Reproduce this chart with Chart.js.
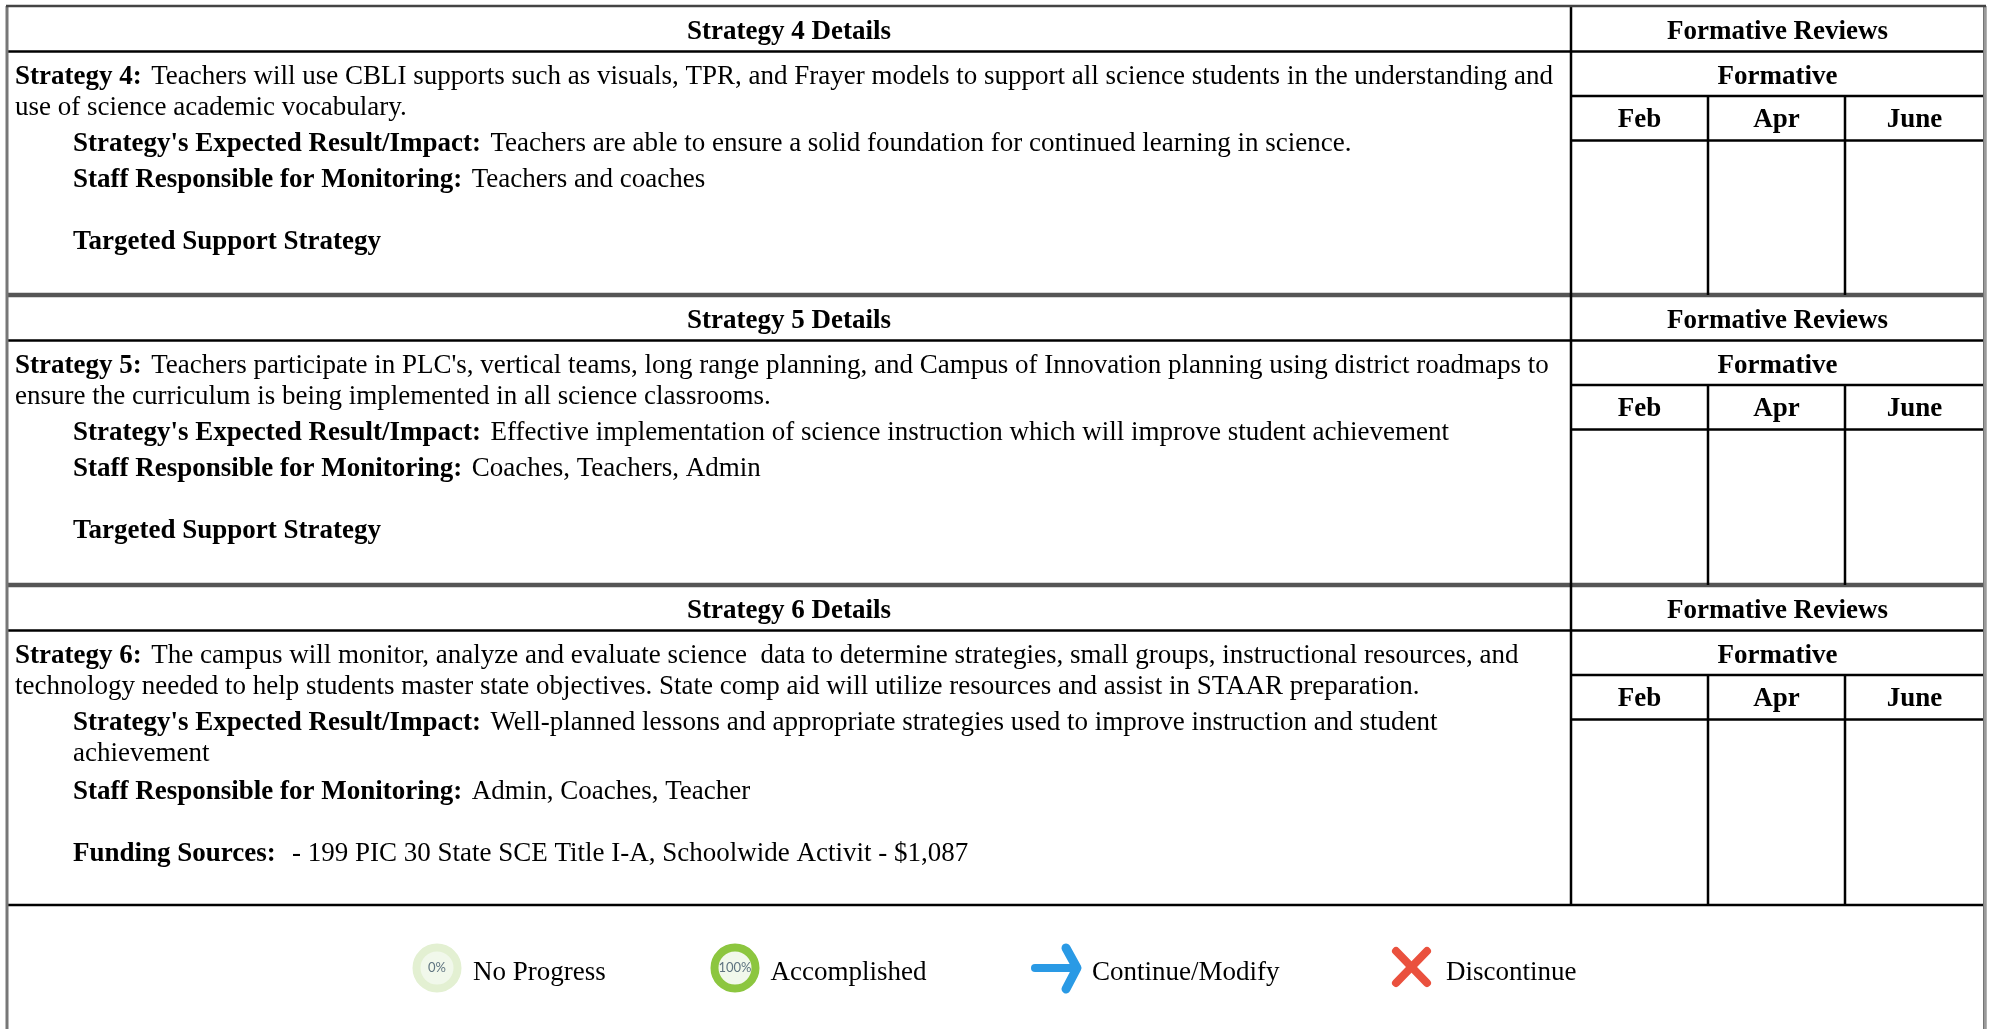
<!DOCTYPE html>
<html>
<head>
<meta charset="utf-8">
<title>Formative reviews</title>
<style>
html, body { margin: 0; padding: 0; background: #ffffff; overflow: hidden; }
#wrap { position: relative; width: 1989px; height: 1029px; }
</style>
<script src="https://cdn.jsdelivr.net/npm/chart.js@4"></script>
</head>
<body>
<div id="wrap"><canvas id="chart"></canvas></div>
<script>
const BLOCK_TITLES = ['Strategy 4 Details', 'Strategy 5 Details', 'Strategy 6 Details'];
const REVIEW_TITLE = 'Formative Reviews';
const REVIEW_SUBTITLE = 'Formative';
const MONTHS = ['Feb', 'Apr', 'June'];
const LEGEND_LABELS = ['No Progress', 'Accomplished', 'Continue/Modify', 'Discontinue'];
const PROGRESS_LABELS = ['0%', '100%'];

// each row is [bold part, plain part]
const STRATEGY_4_ROWS = [
    ['Strategy 4:', 'Teachers will use CBLI supports such as visuals, TPR, and Frayer models to support all science students in the understanding and'],
    ['', 'use of science academic vocabulary.'],
    ["Strategy's Expected Result/Impact:", 'Teachers are able to ensure a solid foundation for continued learning in science.'],
    ['Staff Responsible for Monitoring:', 'Teachers and coaches'],
    ['Targeted Support Strategy', ''],
];
const STRATEGY_5_ROWS = [
    ['Strategy 5:', "Teachers participate in PLC's, vertical teams, long range planning, and Campus of Innovation planning using district roadmaps to"],
    ['', 'ensure the curriculum is being implemented in all science classrooms.'],
    ["Strategy's Expected Result/Impact:", 'Effective implementation of science instruction which will improve student achievement'],
    ['Staff Responsible for Monitoring:', 'Coaches, Teachers, Admin'],
    ['Targeted Support Strategy', ''],
];
const STRATEGY_6_ROWS = [
    ['Strategy 6:', 'The campus will monitor, analyze and evaluate science  data to determine strategies, small groups, instructional resources, and'],
    ['', 'technology needed to help students master state objectives. State comp aid will utilize resources and assist in STAAR preparation.'],
    ["Strategy's Expected Result/Impact:", 'Well-planned lessons and appropriate strategies used to improve instruction and student'],
    ['', 'achievement'],
    ['Staff Responsible for Monitoring:', 'Admin, Coaches, Teacher'],
    ['Funding Sources:', ' - 199 PIC 30 State SCE Title I-A, Schoolwide Activit - $1,087'],
];

const INK = '#000000';
const FONT = '"Liberation Serif"';
const SIZE = 27;

const LEFT = 7;
const RIGHT = 1984;
const SPLIT = 1571;
const COL_1 = 1708;
const COL_2 = 1845;
const TEXT_X = 15;
const INDENT_X = 73;
const BLOCK_TOPS = [6, 295, 585];
const BLOCK_ENDS = [295, 585, 905];
const HEAD_H = 45.5;
const SUB_H = 44.5;
const MONTH_H = 44.5;

function rule(x1, y1, x2, y2, width = 2.5, color = INK) {
    return {
        type: 'line',
        data: [{ x: x1, y: y1 }, { x: x2, y: y2 }],
        borderColor: color,
        borderWidth: width,
        borderCapStyle: 'butt',
        pointRadius: 0,
        tension: 0,
        fill: false,
    };
}

function icon(x, y, radius, fill, ring, ringWidth) {
    return {
        type: 'scatter',
        data: [{ x, y }],
        pointStyle: 'circle',
        pointRadius: radius,
        pointBackgroundColor: fill,
        pointBorderColor: ring,
        pointBorderWidth: ringWidth,
    };
}

function stroke(points, color, width) {
    return {
        type: 'line',
        data: points,
        borderColor: color,
        borderWidth: width,
        borderCapStyle: 'round',
        borderJoinStyle: 'round',
        pointRadius: 0,
        tension: 0,
        fill: false,
    };
}

const datasets = [];

// outer frame: grey edge with a darker core, runs to the bottom of the page
datasets.push(rule(LEFT - 1, 6, RIGHT + 2, 6, 2.5, '#444444'));
datasets.push(rule(LEFT, 6, LEFT, 1029, 3, '#777777'));
datasets.push(rule(LEFT, 6, LEFT, 1029, 1.5, '#111111'));
datasets.push(rule(RIGHT + 1, 6, RIGHT + 1, 1029, 3.5, '#9a9a9a'));
datasets.push(rule(RIGHT, 6, RIGHT, 1029, 2, INK));
datasets.push(rule(LEFT, 905, RIGHT, 905, 2.5));

BLOCK_TOPS.forEach((top, i) => {
    const end = BLOCK_ENDS[i];
    datasets.push(rule(LEFT, top + HEAD_H, RIGHT, top + HEAD_H));
    datasets.push(rule(SPLIT, top, SPLIT, end));
    datasets.push(rule(SPLIT, top + HEAD_H + SUB_H, RIGHT, top + HEAD_H + SUB_H));
    datasets.push(rule(SPLIT, top + HEAD_H + SUB_H + MONTH_H, RIGHT, top + HEAD_H + SUB_H + MONTH_H));
    datasets.push(rule(COL_1, top + HEAD_H + SUB_H, COL_1, end));
    datasets.push(rule(COL_2, top + HEAD_H + SUB_H, COL_2, end));
    if (i > 0) {
        datasets.push(rule(LEFT, top, RIGHT, top, 4.5, '#555555'));
        datasets.push(rule(LEFT, top, RIGHT, top, 2.5));
    }
});

// legend icons
datasets.push(icon(437, 968, 20.5, '#f1f8eb', '#e3f0d2', 8));
datasets.push(icon(735, 968, 20.5, '#f1f8eb', '#8cc63f', 8));
datasets.push(stroke([{ x: 1035, y: 968 }, { x: 1074, y: 968 }], '#2a9ae5', 8));
datasets.push(stroke([{ x: 1066, y: 948 }, { x: 1077, y: 968 }, { x: 1066, y: 989 }], '#2a9ae5', 9));
datasets.push(stroke([{ x: 1396, y: 951 }, { x: 1427, y: 983 }], '#ea513e', 8));
datasets.push(stroke([{ x: 1427, y: 951 }, { x: 1396, y: 983 }], '#ea513e', 8));

const textPlugin = {
    id: 'tableText',
    afterDatasetsDraw(chart) {
        const { ctx, scales } = chart;
        const put = (text, x, y, bold, align = 'left', size = SIZE, color = INK) => {
            ctx.font = `${bold ? 'bold ' : ''}${size}px ${FONT}`;
            ctx.textAlign = align;
            ctx.textBaseline = 'alphabetic';
            ctx.fillStyle = color;
            ctx.fillText(text, scales.x.getPixelForValue(x), scales.y.getPixelForValue(y));
            return ctx.measureText(text).width;
        };
        const row = (parts, x, y) => {
            let cursor = x;
            if (parts[0]) {
                cursor += put(parts[0], cursor, y, true) + 9.5;
            }
            if (parts[1]) {
                put(parts[1], cursor, y, false);
            }
        };

        ctx.save();
        BLOCK_TOPS.forEach((top, i) => {
            put(BLOCK_TITLES[i], (LEFT + SPLIT) / 2, top + 33, true, 'center');
            put(REVIEW_TITLE, (SPLIT + RIGHT) / 2, top + 33, true, 'center');
            put(REVIEW_SUBTITLE, (SPLIT + RIGHT) / 2, top + 77.5, true, 'center');
            put(MONTHS[0], (SPLIT + COL_1) / 2, top + 121, true, 'center');
            put(MONTHS[1], (COL_1 + COL_2) / 2, top + 121, true, 'center');
            put(MONTHS[2], (COL_2 + RIGHT) / 2, top + 121, true, 'center');
        });

        [STRATEGY_4_ROWS, STRATEGY_5_ROWS].forEach((rows, i) => {
            const top = BLOCK_TOPS[i];
            row(rows[0], TEXT_X, top + 77.5);
            row(rows[1], TEXT_X, top + 108.5);
            row(rows[2], INDENT_X, top + 145);
            row(rows[3], INDENT_X, top + 181);
            row(rows[4], INDENT_X, top + 243);
        });

        const top6 = BLOCK_TOPS[2];
        row(STRATEGY_6_ROWS[0], TEXT_X, top6 + 77.5);
        row(STRATEGY_6_ROWS[1], TEXT_X, top6 + 108.5);
        row(STRATEGY_6_ROWS[2], INDENT_X, top6 + 145);
        row(STRATEGY_6_ROWS[3], INDENT_X, top6 + 176);
        row(STRATEGY_6_ROWS[4], INDENT_X, top6 + 213.5);
        row(STRATEGY_6_ROWS[5], INDENT_X, top6 + 275.5);

        put(LEGEND_LABELS[0], 473, 980, false);
        put(LEGEND_LABELS[1], 770.5, 980, false);
        put(LEGEND_LABELS[2], 1092, 980, false);
        put(LEGEND_LABELS[3], 1446, 980, false);

        ctx.font = '13px Lato';
        ctx.textAlign = 'center';
        ctx.textBaseline = 'middle';
        ctx.fillStyle = '#5f7480';
        ctx.fillText(PROGRESS_LABELS[0], scales.x.getPixelForValue(437), scales.y.getPixelForValue(968));
        ctx.fillText(PROGRESS_LABELS[1], scales.x.getPixelForValue(735), scales.y.getPixelForValue(968));
        ctx.restore();
    },
};

new Chart(document.getElementById('chart'), {
    type: 'scatter',
    data: { datasets },
    plugins: [textPlugin],
    options: {
        responsive: true,
        maintainAspectRatio: false,
        animation: false,
        layout: { padding: 0, autoPadding: false },
        plugins: { legend: { display: false }, tooltip: { enabled: false } },
        scales: {
            x: { type: 'linear', min: 0, max: 1989, display: false },
            y: { type: 'linear', min: 0, max: 1029, reverse: true, display: false },
        },
    },
});
</script>
</body>
</html>
